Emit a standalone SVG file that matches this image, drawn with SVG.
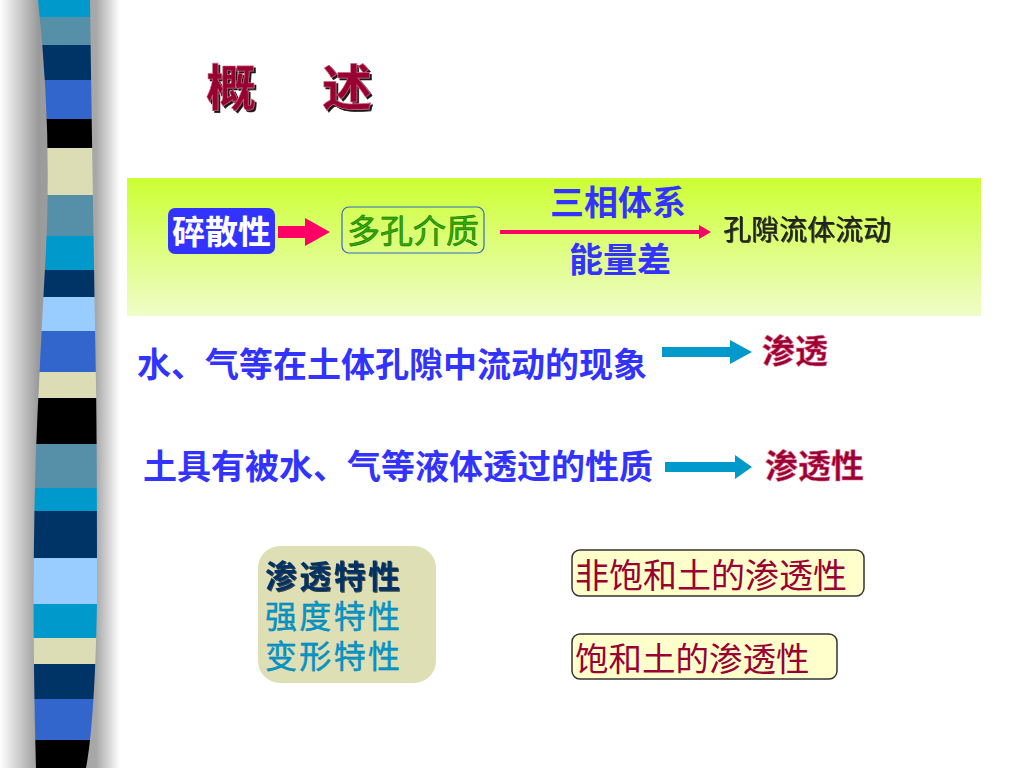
<svg xmlns="http://www.w3.org/2000/svg" width="1024" height="768" viewBox="0 0 1024 768">
<defs>
<linearGradient id="side" x1="0" y1="0" x2="1" y2="0">
<stop offset="0" stop-color="#ffffff"/>
<stop offset="0.32" stop-color="#9a9a9a"/>
<stop offset="0.8" stop-color="#a8a8a8"/>
<stop offset="1" stop-color="#ffffff"/>
</linearGradient>
<linearGradient id="band" x1="0" y1="0" x2="0" y2="1">
<stop offset="0" stop-color="#ccff33"/>
<stop offset="1" stop-color="#effdc8"/>
</linearGradient>
<clipPath id="stripClip">
<path d="M38,0 Q52,128 46,250 Q42,320 39,384 Q30,550 36,768 L86,768 Q95,720 97,600 Q97,450 96,384 Q92,150 90,0 Z"/>
</clipPath>
<filter id="shadow" x="-20%" y="-20%" width="140%" height="140%">
<feDropShadow dx="2" dy="2" stdDeviation="0.4" flood-color="#000000" flood-opacity="0.9"/>
</filter>
<filter id="shadowS" x="-20%" y="-20%" width="140%" height="140%">
<feDropShadow dx="1" dy="1" stdDeviation="0.3" flood-color="#000000" flood-opacity="0.7"/>
</filter>
<marker id="pinkHead" markerWidth="12" markerHeight="14" refX="1" refY="7" orient="auto" markerUnits="userSpaceOnUse">
<path d="M0,0 L12,7 L0,14 Z" fill="#ff0066"/>
</marker>
</defs>
<style>
.cjk{font-family:"Noto Sans CJK SC","Noto Sans CJK JP",sans-serif;}
.blueB{fill:#3333ff;font-weight:bold;}
.red{fill:#990033;}
</style>
<rect width="1024" height="768" fill="#ffffff"/>
<g id="sidebar">
<rect x="0" y="0" width="120" height="768" fill="url(#side)"/>
<g clip-path="url(#stripClip)">
<rect x="20" y="0" width="90" height="17" fill="#0099cc"/>
<rect x="20" y="17" width="90" height="28" fill="#5590a8"/>
<rect x="20" y="45" width="90" height="35" fill="#003366"/>
<rect x="20" y="80" width="90" height="39" fill="#3366cc"/>
<rect x="20" y="119" width="90" height="29" fill="#000000"/>
<rect x="20" y="148" width="90" height="47" fill="#ddddb5"/>
<rect x="20" y="195" width="90" height="41" fill="#5590a8"/>
<rect x="20" y="236" width="90" height="34" fill="#0099cc"/>
<rect x="20" y="270" width="90" height="27" fill="#003366"/>
<rect x="20" y="297" width="90" height="34" fill="#99ccff"/>
<rect x="20" y="331" width="90" height="41" fill="#3366cc"/>
<rect x="20" y="372" width="90" height="26" fill="#ddddb5"/>
<rect x="20" y="398" width="90" height="46" fill="#000000"/>
<rect x="20" y="444" width="90" height="44" fill="#5590a8"/>
<rect x="20" y="488" width="90" height="23" fill="#0099cc"/>
<rect x="20" y="511" width="90" height="47" fill="#003366"/>
<rect x="20" y="558" width="90" height="46" fill="#99ccff"/>
<rect x="20" y="604" width="90" height="34" fill="#0099cc"/>
<rect x="20" y="638" width="90" height="26" fill="#ddddb5"/>
<rect x="20" y="664" width="90" height="35" fill="#003366"/>
<rect x="20" y="699" width="90" height="41" fill="#3366cc"/>
<rect x="20" y="740" width="90" height="28" fill="#000000"/>
</g>
</g>
<g id="title">
<text class="cjk red" font-size="50" font-weight="bold" filter="url(#shadow)" stroke="#cc6680" stroke-width="0.6"><tspan x="206" y="106">概</tspan><tspan x="322" y="106">述</tspan></text>
</g>
<g id="band-bg">
<rect x="127" y="178" width="854" height="138" fill="url(#band)"/>
</g>
<g id="connectors">
<path d="M278,226 H305 V218 L330,232 L305,246 V238 H278 Z" fill="#ff0066"/>
<line x1="500" y1="232" x2="700" y2="232" stroke="#ff0066" stroke-width="4" marker-end="url(#pinkHead)"/>
<path d="M662,347 H730 V340 L752,352 L730,364 V357 H662 Z" fill="#0099cc"/>
<path d="M665,462 H735 V455 L752,467 L735,479 V472 H665 Z" fill="#0099cc"/>
</g>
<g id="node-suisan">
<rect x="168" y="208" width="107" height="46" rx="7" fill="#3333ff"/>
<text class="cjk" x="221.5" y="244" font-size="33" font-weight="bold" fill="#ffffff" text-anchor="middle">碎散性</text>
</g>
<g id="node-duokong">
<rect x="342" y="207" width="142" height="46" rx="7" fill="none" stroke="#3366cc" stroke-width="1.2"/>
<text class="cjk" x="413" y="243" font-size="33" fill="#33aa00" stroke="#006600" stroke-width="0.5" text-anchor="middle">多孔介质</text>
</g>
<g id="label-sanxiang">
<text class="cjk blueB" x="618" y="215" font-size="34" text-anchor="middle">三相体系</text>
</g>
<g id="label-nengliang">
<text class="cjk blueB" x="620" y="272" font-size="34" text-anchor="middle">能量差</text>
</g>
<g id="node-kongxi">
<text class="cjk" x="723" y="240" font-size="28" fill="#222222" filter="url(#shadowS)">孔隙流体流动</text>
</g>
<g id="row1-text">
<text class="cjk blueB" x="137" y="377" font-size="34">水、气等在土体孔隙中流动的现象</text>
</g>
<g id="node-shentou">
<text class="cjk red" x="762" y="363" font-size="33" font-weight="bold" stroke="#e07090" stroke-width="0.5">渗透</text>
</g>
<g id="row2-text">
<text class="cjk blueB" x="143" y="479" font-size="34">土具有被水、气等液体透过的性质</text>
</g>
<g id="node-shentouxing">
<text class="cjk red" x="765" y="478" font-size="33" font-weight="bold" stroke="#e07090" stroke-width="0.5">渗透性</text>
</g>
<g id="node-properties">
<rect x="258" y="546" width="178" height="137" rx="22" fill="#dfdfb6"/>
<text class="cjk" x="265" y="588" font-size="32" textLength="135" lengthAdjust="spacing" font-weight="bold" fill="#003366" filter="url(#shadowS)">渗透特性</text>
<text class="cjk" x="265" y="628" font-size="32" textLength="135" lengthAdjust="spacing" fill="#0099cc" stroke="#0077aa" stroke-width="0.4">强度特性</text>
<text class="cjk" x="265" y="668" font-size="32" textLength="135" lengthAdjust="spacing" fill="#0099cc" stroke="#0077aa" stroke-width="0.4">变形特性</text>
</g>
<g id="node-unsat">
<rect x="572" y="550" width="292" height="46" rx="8" fill="#ffffcc" stroke="#333333" stroke-width="1.5"/>
<text class="cjk red" x="575" y="588" font-size="34">非饱和土的渗透性</text>
</g>
<g id="node-sat">
<rect x="572" y="634" width="265" height="45" rx="8" fill="#ffffcc" stroke="#333333" stroke-width="1.5"/>
<text class="cjk red" x="575" y="671" font-size="33.5">饱和土的渗透性</text>
</g>
</svg>
